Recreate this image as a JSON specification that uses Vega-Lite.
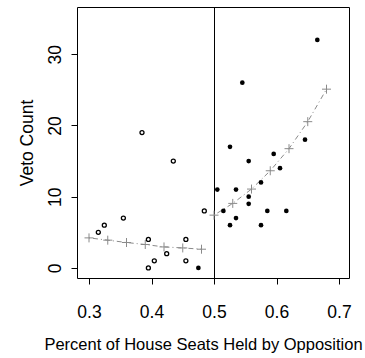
{
  "$schema": "https://vega.github.io/schema/vega-lite/v6.json",
  "width": 272,
  "height": 271,
  "autosize": {"type": "none"},
  "padding": {"left": 77, "top": 7, "right": 16, "bottom": 80},
  "background": "white",
  "config": {
    "view": {"stroke": "black", "strokeWidth": 1},
    "font": "Liberation Sans",
    "axis": {
      "domain": false,
      "grid": false,
      "ticks": true,
      "tickColor": "black",
      "tickWidth": 1,
      "tickSize": 6,
      "labelFont": "Liberation Sans",
      "labelFontSize": 17.5,
      "labelColor": "black",
      "titleFont": "Liberation Sans",
      "titleFontSize": 17.5,
      "titleFontWeight": "normal",
      "titleColor": "black"
    }
  },
  "datasets": {
    "points": [
      {"x": 0.3149, "y": 5, "type": "open"},
      {"x": 0.3245, "y": 6, "type": "open"},
      {"x": 0.355, "y": 7, "type": "open"},
      {"x": 0.3848, "y": 19, "type": "open"},
      {"x": 0.395, "y": 4, "type": "open"},
      {"x": 0.395, "y": 0, "type": "open"},
      {"x": 0.4045, "y": 1, "type": "open"},
      {"x": 0.4243, "y": 2, "type": "open"},
      {"x": 0.4349, "y": 15, "type": "open"},
      {"x": 0.455, "y": 4, "type": "open"},
      {"x": 0.455, "y": 1, "type": "open"},
      {"x": 0.4845, "y": 8, "type": "open"},
      {"x": 0.475, "y": 0, "type": "filled"},
      {"x": 0.5053, "y": 11, "type": "filled"},
      {"x": 0.515, "y": 8, "type": "filled"},
      {"x": 0.5256, "y": 17, "type": "filled"},
      {"x": 0.5256, "y": 6, "type": "filled"},
      {"x": 0.5352, "y": 11, "type": "filled"},
      {"x": 0.5352, "y": 7, "type": "filled"},
      {"x": 0.5453, "y": 26, "type": "filled"},
      {"x": 0.5555, "y": 15, "type": "filled"},
      {"x": 0.5555, "y": 10, "type": "filled"},
      {"x": 0.5555, "y": 9, "type": "filled"},
      {"x": 0.5752, "y": 12, "type": "filled"},
      {"x": 0.5752, "y": 6, "type": "filled"},
      {"x": 0.5853, "y": 8, "type": "filled"},
      {"x": 0.5955, "y": 16, "type": "filled"},
      {"x": 0.6056, "y": 14, "type": "filled"},
      {"x": 0.6157, "y": 8, "type": "filled"},
      {"x": 0.6456, "y": 18, "type": "filled"},
      {"x": 0.6653, "y": 32, "type": "filled"}
    ],
    "fit": [
      {"x": 0.30, "y": 4.22, "segment": "left"},
      {"x": 0.33, "y": 3.9, "segment": "left"},
      {"x": 0.36, "y": 3.57, "segment": "left"},
      {"x": 0.39, "y": 3.29, "segment": "left"},
      {"x": 0.42, "y": 2.95, "segment": "left"},
      {"x": 0.45, "y": 2.81, "segment": "left"},
      {"x": 0.48, "y": 2.63, "segment": "left"},
      {"x": 0.50, "y": 7.41, "segment": "right"},
      {"x": 0.53, "y": 9.06, "segment": "right"},
      {"x": 0.56, "y": 11.07, "segment": "right"},
      {"x": 0.59, "y": 13.64, "segment": "right"},
      {"x": 0.62, "y": 16.74, "segment": "right"},
      {"x": 0.65, "y": 20.53, "segment": "right"},
      {"x": 0.68, "y": 25.09, "segment": "right"}
    ],
    "cutoff": [{"x": 0.5}]
  },
  "encoding": {
    "x": {
      "field": "x", "type": "quantitative",
      "scale": {"domain": [0.2808, 0.716], "nice": false, "zero": false},
      "axis": {
        "title": "Percent of House Seats Held by Opposition",
        "values": [0.3, 0.4, 0.5, 0.6, 0.7],
        "format": ".1f",
        "labelBaseline": "alphabetic",
        "labelPadding": 33,
        "titleFontSize": 16.5,
        "titleBaseline": "alphabetic",
        "titleX": 126,
        "titleY": 71,
        "titleAlign": "center"
      }
    },
    "y": {
      "field": "y", "type": "quantitative",
      "scale": {"domain": [-1.41, 36.62], "nice": false, "zero": false},
      "axis": {
        "title": "Veto Count",
        "values": [0, 10, 20, 30],
        "labelAngle": 270,
        "labelAlign": "center",
        "labelBaseline": "alphabetic",
        "labelPadding": 11,
        "titleAngle": 270,
        "titleAlign": "center",
        "titleBaseline": "alphabetic",
        "titleX": -45,
        "titleY": 135.5
      }
    }
  },
  "layer": [
    {
      "data": {"name": "cutoff"},
      "mark": {"type": "rule", "color": "black", "strokeWidth": 1, "xOffset": 0.5},
      "encoding": {"x": {"field": "x", "type": "quantitative"}, "y": null}
    },
    {
      "data": {"name": "fit"},
      "mark": {"type": "line", "color": "#8a8a8a", "strokeWidth": 1, "strokeDash": [1, 3, 5, 3]},
      "encoding": {"detail": {"field": "segment"}}
    },
    {
      "data": {"name": "fit"},
      "mark": {"type": "point", "shape": "M -1 0 L 1 0 M 0 -1 L 0 1", "size": 81, "filled": false, "stroke": "#8a8a8a", "strokeWidth": 1, "opacity": 1}
    },
    {
      "data": {"name": "points"},
      "transform": [{"filter": "datum.type === 'open'"}],
      "mark": {"type": "point", "shape": "circle", "size": 16, "filled": false, "stroke": "black", "strokeWidth": 1.3, "opacity": 1}
    },
    {
      "data": {"name": "points"},
      "transform": [{"filter": "datum.type === 'filled'"}],
      "mark": {"type": "point", "shape": "circle", "size": 22, "filled": true, "fill": "black", "strokeWidth": 0, "opacity": 1}
    }
  ]
}
